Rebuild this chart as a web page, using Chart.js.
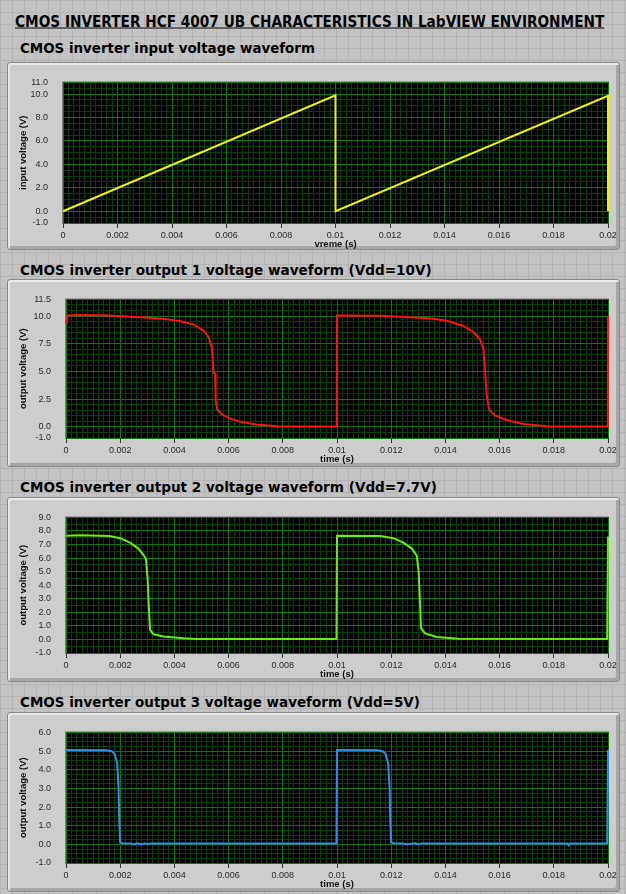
<!DOCTYPE html>
<html>
<head>
<meta charset="utf-8">
<script src="https://cdn.jsdelivr.net/npm/chart.js@4.4.1/dist/chart.umd.min.js"></script>
<style>
html, body { margin: 0; padding: 0; }
body {
	width: 626px; height: 894px; overflow: hidden; position: relative;
	background-color: #c3c3c3;
	background-image:
		linear-gradient(to right, #b4b4b4 1px, transparent 1px),
		linear-gradient(to bottom, #b4b4b4 1px, transparent 1px);
	background-size: 12px 12px;
	font-family: "DejaVu Sans", sans-serif;
}
.frame {
	position: absolute; left: 7px; width: 613px; box-sizing: border-box;
	background: #cdcdcd; border: 1px solid #8a8a8a; border-radius: 3px;
	box-shadow: inset 2px 2px 0 #e8e8e8, inset -3px -3px 0 #a6a6a6;
}
.ttl {
	position: absolute; white-space: nowrap; font-weight: bold; color: #000;
	transform-origin: 0 50%; line-height: 1;
}
canvas { position: absolute; left: 0; }
</style>
</head>
<body>
<script>
// time axis, shared by all four graphs
const xTicks = [0, 0.002, 0.004, 0.006, 0.008, 0.01, 0.012, 0.014, 0.016, 0.018, 0.02];

// input voltage (sawtooth)
const tIn = [0, 0.01, 0.01, 0.02, 0.02];
const vIn = [0.0, 9.9, 0.0, 9.85, 0.0];
const yTicksIn = [-1, 0, 2, 4, 6, 8, 10, 11];

// output 1, Vdd = 10 V
const t1 = [0, 0.00005, 0.0005, 0.0016, 0.0027, 0.0035, 0.0042, 0.0047, 0.00507, 0.00525,
	0.00538, 0.00541, 0.00544, 0.0055, 0.00552, 0.00558, 0.00574, 0.006, 0.0064, 0.007,
	0.0078, 0.0085, 0.00999, 0.01, 0.0116, 0.0134, 0.01405, 0.01466, 0.01503, 0.01528,
	0.0154, 0.01546, 0.01552, 0.01561, 0.01583, 0.01626, 0.01687, 0.01774, 0.01999, 0.02];
const v1 = [9.3, 10.05, 10.1, 10.05, 9.9, 9.78, 9.55, 9.25, 8.7, 8.15,
	7.2, 6.2, 4.9, 4.8, 2.4, 1.57, 1.16, 0.8, 0.48, 0.21,
	0.07, 0.03, 0.03, 10.05, 10.02, 9.8, 9.58, 9.1, 8.56, 7.88,
	7.06, 5.14, 2.95, 1.57, 1.03, 0.62, 0.26, 0.07, 0.03, 10.0];
const yTicks1 = [-1, 0, 2.5, 5, 7.5, 10, 11.5];

// output 2, Vdd = 7.7 V
const t2 = [0, 0.0005, 0.0016, 0.002, 0.00236, 0.00267, 0.00285, 0.00295, 0.00301, 0.00306,
	0.0031, 0.00322, 0.00359, 0.00433, 0.0048, 0.00998, 0.01, 0.0116, 0.01208, 0.01245,
	0.01276, 0.01294, 0.01301, 0.01306, 0.0131, 0.01325, 0.01368, 0.0145, 0.01997, 0.02];
const v2 = [7.65, 7.69, 7.63, 7.47, 7.14, 6.7, 6.26, 5.93, 4.49, 2.27,
	0.7, 0.39, 0.21, 0.08, 0.03, 0.03, 7.65, 7.63, 7.47, 7.14,
	6.7, 6.19, 5.04, 2.83, 0.84, 0.44, 0.18, 0.05, 0.03, 7.6];
const yTicks2 = [-1, 0, 1, 2, 3, 4, 5, 6, 7, 8, 9];

// output 3, Vdd = 5 V
const t3 = [0, 0.0015, 0.0017, 0.0018, 0.00189, 0.00194, 0.00197, 0.002, 0.0021, 0.0024,
	0.0025, 0.0026, 0.0028, 0.0029, 0.003, 0.0031, 0.00998, 0.01, 0.0115, 0.0117,
	0.0118, 0.01189, 0.01194, 0.01197, 0.012, 0.0121, 0.0124, 0.0126, 0.0129, 0.013,
	0.0131, 0.0185, 0.01855, 0.0186, 0.01997, 0.02];
const v3 = [5.05, 5.04, 4.98, 4.82, 4.33, 3.03, 1.08, 0.1, 0.06, 0.05,
	0.0, 0.06, 0.0, 0.06, 0.02, 0.05, 0.05, 5.05, 5.04, 4.98,
	4.82, 4.33, 3.03, 1.08, 0.1, 0.06, 0.05, 0.0, 0.06, 0.0,
	0.05, 0.05, -0.05, 0.05, 0.04, 5.05];
const yTicks3 = [-1, 0, 1, 2, 3, 4, 5, 6];

const MAJOR = '#0f760f';
const MINOR = '#073e07';
const TICK_FONT = {family: 'Liberation Sans', size: 9};
const AXIS_FONT = {family: 'Liberation Sans', size: 9.5, weight: 'bold'};

const panels = [
	{title: 'CMOS inverter input voltage waveform', titleY: 48, titleRight: 315,
		frameTop: 62, frameBottom: 250, left: 63, top: 73, bottom: 223,
		t: tIn, v: vIn, yTicks: yTicksIn, yMinor: 0.5, color: '#f2f200',
		yTitle: 'input voltage (V)', xTitle: 'vreme (s)'},
	{title: 'CMOS inverter output 1 voltage waveform (Vdd=10V)', titleY: 270, titleRight: 432,
		frameTop: 279, frameBottom: 467, left: 66, top: 286, bottom: 438,
		t: t1, v: v1, yTicks: yTicks1, yMinor: 0.5, color: '#ff1010',
		yTitle: 'output voltage (V)', xTitle: 'time (s)'},
	{title: 'CMOS inverter output 2 voltage waveform (Vdd=7.7V)', titleY: 487, titleRight: 437,
		frameTop: 497, frameBottom: 682, left: 66, top: 502, bottom: 653,
		t: t2, v: v2, yTicks: yTicks2, yMinor: 0.5, color: '#66ee11',
		yTitle: 'output voltage (V)', xTitle: 'time (s)'},
	{title: 'CMOS inverter output 3 voltage waveform (Vdd=5V)', titleY: 702, titleRight: 420,
		frameTop: 712, frameBottom: 892, left: 66, top: 719, bottom: 863,
		t: t3, v: v3, yTicks: yTicks3, yMinor: 0.25, color: '#2b8ff0',
		yTitle: 'output voltage (V)', xTitle: 'time (s)'},
];

function steps(min, max, step) {
	const out = [];
	const n = Math.round((max - min) / step);
	for (let i = 0; i <= n; i++) out.push({value: min + i * step});
	return out;
}

function addTitle(text, left, right, centerY, size, underline) {
	const el = document.createElement('div');
	el.className = 'ttl';
	el.textContent = text;
	el.style.fontSize = size + 'px';
	el.style.left = left + 'px';
	el.style.top = centerY + 'px';
	if (underline) el.style.textDecoration = 'underline';
	document.body.appendChild(el);
	const k = (right - left) / el.offsetWidth;
	el.style.transform = 'translateY(-50%) scaleX(' + k + ')';
}

// black plot area with a thin grey rim
const plotBg = {
	id: 'plotBg',
	beforeDraw(chart) {
		const {ctx, chartArea: a} = chart;
		ctx.save();
		ctx.fillStyle = '#7c7c7c';
		ctx.fillRect(a.left - 1, a.top - 1, a.right - a.left + 2, a.bottom - a.top + 2);
		ctx.fillStyle = '#000';
		ctx.fillRect(a.left, a.top, a.right - a.left, a.bottom - a.top);
		ctx.restore();
	}
};

addTitle('CMOS INVERTER HCF 4007 UB CHARACTERISTICS IN LabVIEW ENVIRONMENT', 15, 604, 22, 15, true);

panels.forEach(p => {
	const fr = document.createElement('div');
	fr.className = 'frame';
	fr.style.top = p.frameTop + 'px';
	fr.style.height = (p.frameBottom - p.frameTop) + 'px';
	document.body.appendChild(fr);

	addTitle(p.title, 20, p.titleRight, p.titleY, 14, false);

	const h = p.bottom + 28 - p.frameTop;
	const cv = document.createElement('canvas');
	cv.width = 626; cv.height = h;
	cv.style.top = p.frameTop + 'px';
	document.body.appendChild(cv);

	const yMin = p.yTicks[0];
	const yMax = p.yTicks[p.yTicks.length - 1];

	new Chart(cv, {
		type: 'line',
		data: {
			datasets: [{
				data: p.t.map((t, i) => ({x: t, y: p.v[i]})),
				borderColor: p.color,
				borderWidth: 2,
				pointRadius: 0,
				tension: 0,
				fill: false,
				clip: false,
			}]
		},
		options: {
			responsive: false,
			animation: false,
			events: [],
			layout: {padding: {top: p.top - p.frameTop, right: 18, bottom: 0, left: 0}},
			plugins: {legend: {display: false}, tooltip: {enabled: false}},
			scales: {
				xm: {
					type: 'linear', position: 'bottom', min: 0, max: 0.02, z: -2,
					grid: {color: MINOR, drawTicks: false},
					border: {display: false},
					ticks: {display: false},
					afterBuildTicks: s => { s.ticks = steps(0, 0.02, 0.0002); },
					afterFit: s => { s.height = 0; },
				},
				ym: {
					type: 'linear', position: 'left', min: yMin, max: yMax, z: -2,
					grid: {color: MINOR, drawTicks: false},
					border: {display: false},
					ticks: {display: false},
					afterBuildTicks: s => { s.ticks = steps(yMin, yMax, p.yMinor); },
					afterFit: s => { s.width = 0; },
				},
				x: {
					type: 'linear', position: 'bottom', min: 0, max: 0.02, z: -1,
					grid: {color: MAJOR, tickColor: '#333', tickLength: 5},
					border: {display: false},
					ticks: {
						autoSkip: false, maxRotation: 0, padding: 2,
						color: '#2a2a2a', font: TICK_FONT,
						callback: v => String(v),
					},
					afterBuildTicks: s => { s.ticks = xTicks.map(v => ({value: v})); },
					title: {display: true, text: p.xTitle, color: '#111', font: AXIS_FONT,
						padding: {top: 0, bottom: 1}},
					afterFit: s => { s.height = 28; },
				},
				y: {
					type: 'linear', position: 'left', min: yMin, max: yMax, z: -1,
					grid: {color: MAJOR, drawTicks: false},
					border: {display: false},
					ticks: {
						autoSkip: false, padding: 15,
						color: '#2a2a2a', font: TICK_FONT,
						callback: v => v.toFixed(1),
					},
					afterBuildTicks: s => { s.ticks = p.yTicks.map(v => ({value: v})); },
					title: {display: true, text: p.yTitle, color: '#111', font: AXIS_FONT,
						padding: {top: 18, bottom: 0}},
					afterFit: s => { s.width = p.left; },
				},
			}
		},
		plugins: [plotBg]
	});
});
</script>
</body>
</html>
